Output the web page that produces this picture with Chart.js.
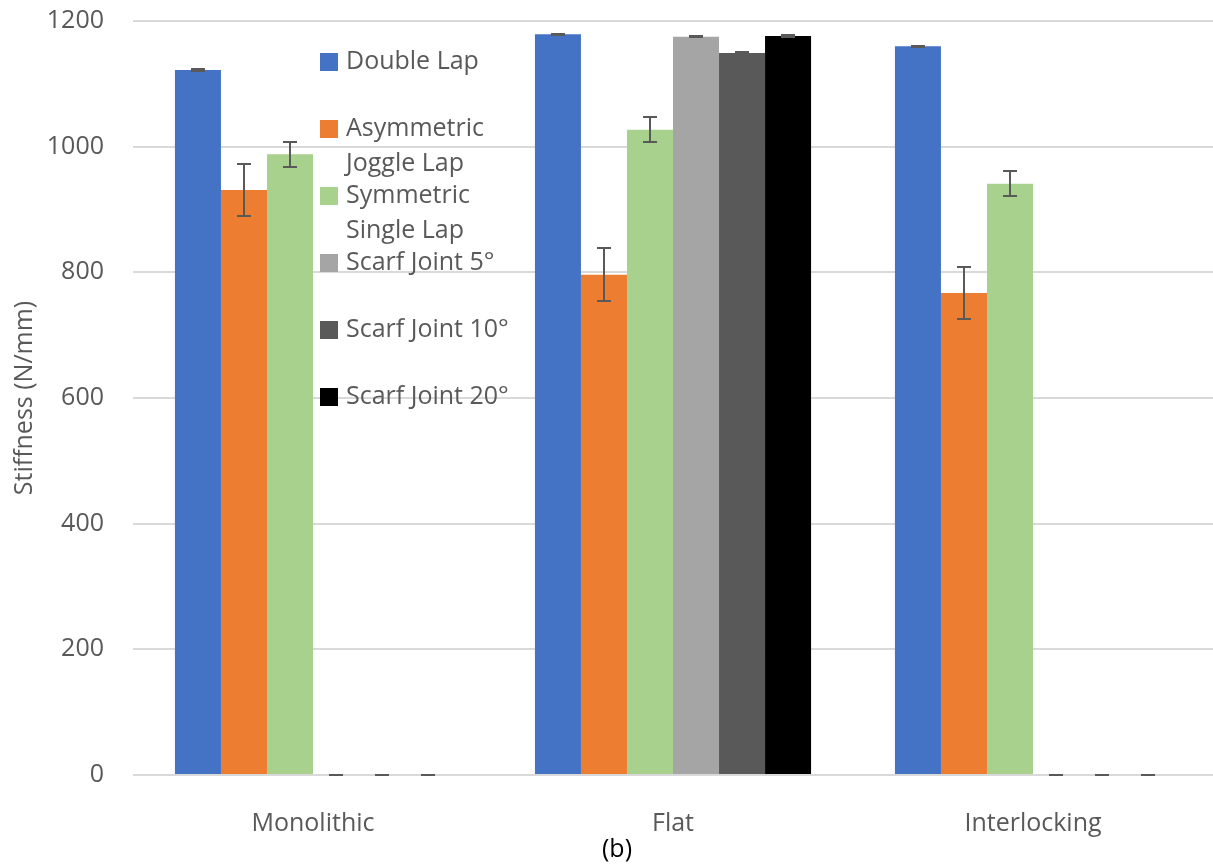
<!DOCTYPE html>
<html>
<head>
<meta charset="utf-8">
<script src="https://cdn.jsdelivr.net/npm/chart.js@4.4.1/dist/chart.umd.min.js"></script>
<style>
  html, body { margin: 0; padding: 0; background: #ffffff; }
  #wrap { width: 1213px; height: 865px; position: relative; }
</style>
</head>
<body>
<div id="wrap"><canvas id="c" width="1213" height="865"></canvas></div>
<script>
// ---- data ----
const categories = ['Monolithic', 'Flat', 'Interlocking'];
const seriesNames = ['Double Lap', 'Asymmetric Joggle Lap', 'Symmetric Single Lap', 'Scarf Joint 5°', 'Scarf Joint 10°', 'Scarf Joint 20°'];
const legendLines = [['Double Lap'], ['Asymmetric', 'Joggle Lap'], ['Symmetric', 'Single Lap'], ['Scarf Joint 5°'], ['Scarf Joint 10°'], ['Scarf Joint 20°']];
const doubleLap = [1122, 1179, 1160];
const asymJoggle = [931, 796, 767];
const symSingle = [988, 1027, 941];
const scarf5 = [0, 1175, 0];
const scarf10 = [0, 1149, 0];
const scarf20 = [0, 1176, 0];
const errDoubleLap = [1, 1, 1];
const errAsymJoggle = [42, 42, 42];
const errSymSingle = [20, 20, 20];
const errScarf5 = [0, 1, 0];
const errScarf10 = [0, 1, 0];
const errScarf20 = [0, 1, 0];
const yTicks = [0, 200, 400, 600, 800, 1000, 1200];
const yTitle = 'Stiffness (N/mm)';
const subLabel = '(b)';

const colors = ['#4472C4', '#ED7D31', '#A9D18E', '#A5A5A5', '#595959', '#000000'];
const values = [doubleLap, asymJoggle, symSingle, scarf5, scarf10, scarf20];
const errors = [errDoubleLap, errAsymJoggle, errSymSingle, errScarf5, errScarf10, errScarf20];

const FONT = "'Open Sans', 'DejaVu Sans', sans-serif";
const TXT = '#595959';

const errorBarPlugin = {
  id: 'errorBars',
  afterDatasetsDraw(chart) {
    const ctx = chart.ctx;
    const y = chart.scales.y;
    ctx.save();
    ctx.strokeStyle = '#595959';
    ctx.lineWidth = 2;
    chart.data.datasets.forEach((ds, di) => {
      const meta = chart.getDatasetMeta(di);
      meta.data.forEach((bar, i) => {
        const v = ds.data[i];
        const e = ds.errors[i];
        const yt = Math.round(y.getPixelForValue(v + e));
        const yb = Math.round(y.getPixelForValue(v - e));
        const x = Math.round(bar.x);
        ctx.beginPath();
        ctx.moveTo(x, yt); ctx.lineTo(x, yb);
        ctx.moveTo(x - 7, yt); ctx.lineTo(x + 7, yt);
        ctx.moveTo(x - 7, yb); ctx.lineTo(x + 7, yb);
        ctx.stroke();
      });
    });
    ctx.restore();
  }
};

const extrasPlugin = {
  id: 'extras',
  afterDraw(chart) {
    const ctx = chart.ctx;
    ctx.save();
    // legend
    const boxX = 320, box = 18, textX = 346, firstY = 62, step = 67, lineStep = 35;
    ctx.font = '25px ' + FONT;
    ctx.textBaseline = 'middle';
    ctx.textAlign = 'left';
    chart.data.datasets.forEach((ds, i) => {
      const cy = firstY + i * step;
      ctx.fillStyle = ds.backgroundColor;
      ctx.fillRect(boxX, cy - box / 2, box, box);
      ctx.fillStyle = TXT;
      legendLines[i].forEach((ln, k) => ctx.fillText(ln, textX, cy + k * lineStep));
    });
    // sub label
    ctx.fillStyle = '#000000';
    ctx.textAlign = 'center';
    ctx.fillText(subLabel, 617, 850);
    ctx.restore();
  }
};

new Chart(document.getElementById('c'), {
  type: 'bar',
  data: {
    labels: categories,
    datasets: seriesNames.map((n, i) => ({
      label: n,
      data: values[i],
      errors: errors[i],
      backgroundColor: colors[i],
      borderWidth: 0,
      categoryPercentage: 0.767,
      barPercentage: 1.0
    }))
  },
  options: {
    responsive: false,
    animation: false,
    devicePixelRatio: 1,
    layout: { padding: { top: 21, right: 0, left: 0, bottom: 0 } },
    plugins: { legend: { display: false }, tooltip: { enabled: false } },
    scales: {
      x: {
        grid: { display: false },
        border: { display: false },
        ticks: { color: TXT, font: { family: FONT, size: 25 }, padding: 26, maxRotation: 0 },
        afterFit(s) { s.height = 90; }
      },
      y: {
        min: 0, max: 1200,
        afterBuildTicks(s) { s.ticks = yTicks.map(v => ({ value: v })); },
        grid: { color: '#d9d9d9', lineWidth: 2, drawTicks: false },
        border: { display: false },
        ticks: { color: TXT, font: { family: FONT, size: 25 }, padding: 29, callback: v => String(v) },
        title: { display: true, text: yTitle, color: TXT, font: { family: FONT, size: 25 }, padding: { top: 10, bottom: 0 } },
        afterFit(s) { s.width = 133; s.paddingTop = 0; s.paddingBottom = 0; }
      }
    }
  },
  plugins: [errorBarPlugin, extrasPlugin]
});
</script>
</body>
</html>
